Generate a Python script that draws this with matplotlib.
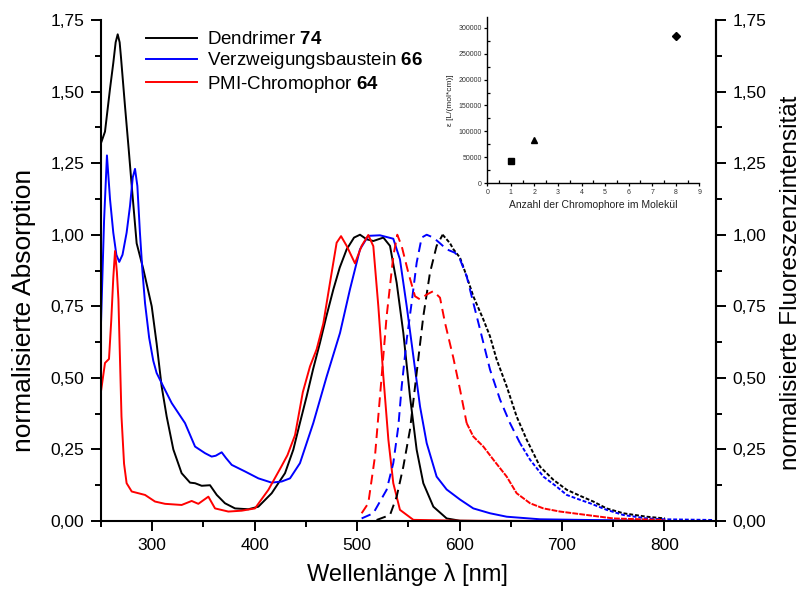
import matplotlib
matplotlib.use("Agg")
import matplotlib.pyplot as plt
from matplotlib.ticker import MultipleLocator, FuncFormatter
import numpy as np

plt.rcParams['font.family'] = ['Liberation Sans', 'DejaVu Sans']
plt.rcParams['mathtext.fontset'] = 'custom'
plt.rcParams['mathtext.bf'] = 'Liberation Sans:bold'
plt.rcParams['mathtext.rm'] = 'Liberation Sans'

# ---------------- data ----------------
# Dendrimer 74 absorption
wl_den_abs = [250, 253.9, 258.8, 262, 264.3, 266.3, 268.2, 269.5, 273.4, 277, 280, 284.8, 291.3,
              299.5, 304.3, 309.2, 314.1, 320.6, 328.7, 336.9, 341.8, 348.3, 356.4, 363, 371,
              380.8, 393.8, 403.6, 416.6, 429.6, 437.7, 444, 450.7, 457, 463.7, 470, 476.8,
              483, 489.8, 497, 502.8, 509.3, 515.8, 525.6, 532.1, 538.6, 545.1, 551.6, 558.1,
              564.6, 574.4, 587.4, 600.4, 620]
den_abs = [1.32, 1.36, 1.51, 1.60, 1.672, 1.70, 1.672, 1.62, 1.45, 1.30, 1.17, 0.97, 0.88,
           0.75, 0.62, 0.47, 0.365, 0.25, 0.167, 0.134, 0.132, 0.123, 0.125, 0.091, 0.062,
           0.044, 0.041, 0.05, 0.097, 0.167, 0.249, 0.34, 0.435, 0.53, 0.622, 0.715, 0.809,
           0.885, 0.949, 0.99, 1.0, 0.984, 0.978, 0.99, 0.961, 0.832, 0.657, 0.435, 0.249,
           0.132, 0.05, 0.009, 0.001, 0.0]

# Verzweigungsbaustein 66 absorption
wl_vzb_abs = [250, 253, 255.8, 258.8, 262, 265, 267.8, 271, 275, 278.3, 281, 283.2, 285.5,
              288, 290.5, 293, 297, 301, 304.3, 310.8, 319, 332, 341.8, 351.5, 358, 362,
              367.8, 372, 377.6, 390.6, 403.6, 416.6, 426.4, 434.5, 444.2, 457.2, 470.3,
              483.3, 493, 502.8, 510.9, 522.3, 535.3, 541.8, 548.4, 554.9, 561.4, 567.9,
              577.6, 587.4, 600.4, 613.4, 629.7, 646, 678.5, 727.3, 800]
vzb_abs = [0.69, 1.05, 1.277, 1.124, 1.007, 0.93, 0.905, 0.93, 1.007, 1.10, 1.20, 1.23, 1.17,
           1.007, 0.87, 0.76, 0.64, 0.56, 0.517, 0.47, 0.412, 0.342, 0.26, 0.237, 0.225, 0.228,
           0.24, 0.22, 0.196, 0.173, 0.149, 0.134, 0.138, 0.149, 0.202, 0.342, 0.505,
           0.657, 0.809, 0.949, 0.996, 0.998, 0.986, 0.914, 0.75, 0.575, 0.40, 0.272,
           0.155, 0.11, 0.075, 0.044, 0.027, 0.015, 0.006, 0.0035, 0.001]

# PMI-Chromophor 64 absorption
wl_pmi_abs = [250, 253.9, 257.8, 260, 262, 263.7, 265.5, 267, 270, 272.5, 275, 280, 293,
              302.7, 312.5, 328.7, 338.5, 345, 354.8, 361.3, 374.3, 387.3, 400.3, 413.4,
              426, 432, 439.4, 447, 454, 460.5, 467, 473.5, 480, 484.3, 489.8, 497.9, 504.4,
              510.9, 515.8, 520.7, 525.6, 530.5, 535.3, 541.8, 554.9, 600, 700, 800]
pmi_abs = [0.453, 0.552, 0.566, 0.70, 0.85, 0.943, 0.87, 0.774, 0.365, 0.20, 0.132, 0.103, 0.091,
           0.068, 0.06, 0.056, 0.07, 0.06, 0.085, 0.044, 0.033, 0.036, 0.044, 0.109,
           0.19, 0.23, 0.30, 0.45, 0.54, 0.60, 0.69, 0.832, 0.972, 0.995, 0.961, 0.90, 0.961,
           0.999, 0.96, 0.75, 0.505, 0.284, 0.132, 0.039, 0.004, 0.001, 0.0, 0.0]

# Fluorescence
wl_den_fl = [519, 532.1, 538.6, 545.1, 551.6, 558.1, 564.6, 571.1, 577.6, 583.5, 590.7, 594,
             600.4, 606.9, 613.4, 623.2, 629.7, 636.2, 646, 655.7, 665.5, 678.5, 691.5,
             704.6, 717.6, 730.5, 743.5, 759.8, 782.6, 800.5]
den_fl = [0.0035, 0.021, 0.085, 0.19, 0.319, 0.517, 0.715, 0.867, 0.961, 1.0, 0.97, 0.949,
          0.92, 0.855, 0.785, 0.704, 0.645, 0.564, 0.47, 0.365, 0.284, 0.19, 0.144,
          0.109, 0.088, 0.068, 0.044, 0.027, 0.015, 0.009]

wl_vzb_fl = [504.4, 515.8, 528.8, 535.3, 540.2, 543.5, 548.4, 553.2, 558.1, 563, 567.9, 574.4,
             580.9, 587.4, 595.5, 600.4, 606.9, 613.4, 620, 629.7, 639.5, 649.2, 659, 668.8,
             681.8, 694.8, 704.6, 717.6, 727.3, 743.5, 759.8, 782.6, 800, 848]
vzb_fl = [0.009, 0.027, 0.109, 0.202, 0.33, 0.47, 0.634, 0.762, 0.902, 0.99, 1.0, 0.99,
          0.97, 0.949, 0.937, 0.914, 0.855, 0.762, 0.669, 0.529, 0.424, 0.342, 0.272, 0.214,
          0.155, 0.12, 0.091, 0.074, 0.062, 0.039, 0.021, 0.009, 0.006, 0.0035]

wl_pmi_fl = [504.4, 510.9, 517.4, 522.3, 528.8, 535.3, 539.2, 543.5, 550, 556.5, 561.4, 567.9,
             574.4, 580.9, 585.8, 593.9, 600.4, 606.9, 613.4, 623.2, 633, 646, 655.7, 668.8,
             681.8, 698, 717.6, 750, 800]
pmi_fl = [0.027, 0.062, 0.225, 0.435, 0.715, 0.925, 1.0, 0.96, 0.867, 0.785, 0.774, 0.791,
          0.803, 0.78, 0.692, 0.57, 0.46, 0.342, 0.295, 0.26, 0.214, 0.155, 0.097, 0.062,
          0.044, 0.033, 0.024, 0.009, 0.0035]

# Inset data
n_chromophore = [1, 2, 8]
epsilon = [43000, 83000, 283000]
inset_markers = ['s', '^', 'D']

labels = [r'Dendrimer $\mathbf{74}$', r'Verzweigungsbaustein $\mathbf{66}$',
          r'PMI-Chromophor $\mathbf{64}$']
colors = ['#000000', '#0000ff', '#ff0000']

# ---------------- figure ----------------
W, H = 804, 597
fig = plt.figure(figsize=(W / 100, H / 100), dpi=100)
ax = fig.add_axes([101 / W, 1 - 521 / H, 614.7 / W, 501 / H])

lw = 1.4
ax.plot(wl_den_abs, den_abs, color=colors[0], lw=lw, label=labels[0])
ax.plot(wl_vzb_abs, vzb_abs, color=colors[1], lw=lw, label=labels[1])
ax.plot(wl_pmi_abs, pmi_abs, color=colors[2], lw=lw, label=labels[2])


def split_plot(x, y, split, color, tail_dash):
    x = np.asarray(x); y = np.asarray(y)
    m1 = x <= split
    i = np.argmax(x > split)
    ax.plot(x[m1], y[m1], color=color, lw=lw, dashes=(5, 3))
    ax.plot(x[i - 1:], y[i - 1:], color=color, lw=lw, dashes=tail_dash)


split_plot(wl_den_fl, den_fl, 583.5, colors[0], (2, 1))
split_plot(wl_vzb_fl, vzb_fl, 665, colors[1], (2, 1))
split_plot(wl_pmi_fl, pmi_fl, 612, colors[2], (3, 0.6))

ax.set_xlim(250, 850)
ax.set_ylim(0, 1.75)
ax.xaxis.set_major_locator(MultipleLocator(100))
ax.xaxis.set_minor_locator(MultipleLocator(50))
ax.xaxis.set_major_formatter(FuncFormatter(lambda v, p: f"{int(round(v))}" if 300 <= v <= 800 else ""))
ax.yaxis.set_major_locator(MultipleLocator(0.25))
ax.yaxis.set_minor_locator(MultipleLocator(0.125))
comma = FuncFormatter(lambda v, p: f"{v:.2f}".replace('.', ','))
ax.yaxis.set_major_formatter(comma)
for s in ['left', 'bottom', 'right']:
    ax.spines[s].set_linewidth(1.5)
ax.spines['top'].set_visible(False)
ax.tick_params(which='major', direction='out', length=7, width=1.4, labelsize=12.5, pad=5)
ax.tick_params(which='minor', direction='out', length=4.5, width=1.4)

ax2 = ax.twinx()
ax2.set_ylim(0, 1.75)
ax2.yaxis.set_major_locator(MultipleLocator(0.25))
ax2.yaxis.set_minor_locator(MultipleLocator(0.125))
ax2.yaxis.set_major_formatter(comma)
ax2.spines['top'].set_visible(False)
ax2.spines['right'].set_linewidth(1.5)
ax2.spines['left'].set_visible(False)
ax2.spines['bottom'].set_visible(False)
ax2.tick_params(which='major', direction='out', length=7, width=1.4, labelsize=12.5, pad=5)
ax2.tick_params(which='minor', direction='out', length=4.5, width=1.4)

fig.text(24 / W, 1 - 310 / H, 'normalisierte Absorption', rotation=90,
         ha='center', va='center', fontsize=19)
fig.text(791 / W, 1 - 283 / H, 'normalisierte Fluoreszenzintensität', rotation=90,
         ha='center', va='center', fontsize=17.5)
fig.text(407 / W, 1 - 575 / H, 'Wellenlänge λ [nm]', ha='center', va='center', fontsize=17)

leg = ax.legend(loc='upper left', bbox_to_anchor=(146 / W, 1 - 31 / H),
                bbox_transform=fig.transFigure, frameon=False, fontsize=13.5,
                handlelength=2.7, handletextpad=0.55, labelspacing=0.12, borderpad=0,
                borderaxespad=0)

# ---------------- inset ----------------
axi = fig.add_axes([487.3 / W, 1 - 183.3 / H, 212 / W, 166 / H])
for xv, yv, mk in zip(n_chromophore, epsilon, inset_markers):
    axi.plot([xv], [yv], marker=mk, color='black', ms=4, ls='none')
axi.set_xlim(0, 9)
axi.set_ylim(0, 320000)
axi.xaxis.set_major_locator(MultipleLocator(1))
axi.xaxis.set_minor_locator(MultipleLocator(0.5))
axi.yaxis.set_major_locator(MultipleLocator(50000))
axi.yaxis.set_minor_locator(MultipleLocator(25000))
axi.ticklabel_format(style='plain', useOffset=False)
axi.spines['top'].set_visible(False)
axi.spines['right'].set_visible(False)
axi.spines['left'].set_linewidth(1.0)
axi.spines['bottom'].set_linewidth(1.0)
axi.tick_params(which='major', direction='out', length=2.5, width=0.9, labelsize=5,
                pad=1.5, labelcolor='#333333')
axi.tick_params(which='minor', direction='in', length=2, width=0.9)
axi.set_xlabel('Anzahl der Chromophore im Molekül', fontsize=7.5, labelpad=3, color='#222222')
axi.set_ylabel('ε [L/(mol*cm)]', fontsize=6, labelpad=3, color='#222222')

fig.savefig('out.png', dpi=100)
